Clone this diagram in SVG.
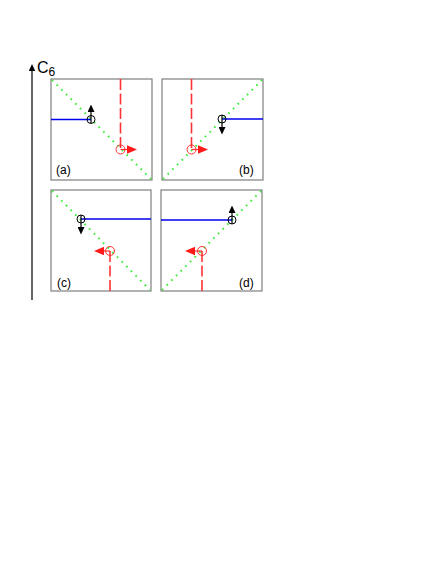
<svg xmlns="http://www.w3.org/2000/svg" width="436" height="564" viewBox="0 0 436 564">
<style>
.box{fill:#fff;stroke:#7f7f7f;stroke-width:1.2}
.diag{stroke:#33ee33;stroke-width:2;stroke-dasharray:1.6 5;fill:none}
.blue{stroke:#0000ee;stroke-width:1.5;fill:none}
.red{stroke:#ff3333;stroke-width:1.6;stroke-dasharray:11 3.5;fill:none}
.bc{fill:none;stroke:#000;stroke-width:1}
.rc{fill:none;stroke:#ff3333;stroke-width:1}
.ba{stroke:#000;stroke-width:1.2;marker-end:url(#mb)}
.ra{stroke:#ff3333;stroke-width:1.2;marker-end:url(#mr)}
.lbl{font-family:"Liberation Sans",Arial,sans-serif;font-size:12px;fill:#000}
</style>
<defs>
<marker id="mb" viewBox="0 0 10 10" refX="0" refY="5" markerWidth="7.5" markerHeight="7" markerUnits="userSpaceOnUse" orient="auto" preserveAspectRatio="none"><path d="M0,0 L10,5 L0,10 z" fill="#000"/></marker>
<marker id="mr" viewBox="0 0 10 10" refX="0" refY="5" markerWidth="10" markerHeight="8.5" markerUnits="userSpaceOnUse" orient="auto" preserveAspectRatio="none"><path d="M0,0 L10,5 L0,10 z" fill="#ff1a1a"/></marker>
<marker id="ma" viewBox="0 0 10 10" refX="0" refY="5" markerWidth="7" markerHeight="6.5" markerUnits="userSpaceOnUse" orient="auto" preserveAspectRatio="none"><path d="M0,0 L10,5 L0,10 z" fill="#000"/></marker>
</defs>
<g id="axis">
<line x1="32" y1="300" x2="32" y2="71" stroke="#000" stroke-width="1.2" marker-end="url(#ma)"/>
<text x="37" y="73" font-family="Liberation Sans,Arial,sans-serif" font-size="16">C<tspan font-size="12" dy="3">6</tspan></text>
</g>
<g id="panel-a">
<rect class="box" x="51" y="79" width="101" height="101"/>
<line class="diag" x1="52" y1="80" x2="151" y2="179"/>
<line class="blue" x1="51" y1="119.5" x2="91" y2="119.5"/>
<line class="red" x1="120.5" y1="79" x2="120.5" y2="149"/>
<circle class="bc" cx="91" cy="119.5" r="4"/>
<line class="ba" x1="91" y1="123" x2="91" y2="112"/>
<circle class="rc" cx="120.5" cy="149.5" r="4.5"/>
<line class="ra" x1="120.5" y1="149.5" x2="127" y2="149.5"/>
<text class="lbl" x="56" y="174">(a)</text>
</g>
<g id="panel-b">
<rect class="box" x="162" y="79" width="101" height="101"/>
<line class="diag" x1="163" y1="179" x2="262" y2="80"/>
<line class="blue" x1="222" y1="119" x2="263" y2="119"/>
<line class="red" x1="191.5" y1="79" x2="191.5" y2="149"/>
<circle class="bc" cx="222" cy="119" r="4"/>
<line class="ba" x1="222" y1="115" x2="222" y2="127"/>
<circle class="rc" cx="191.5" cy="149.5" r="4.5"/>
<line class="ra" x1="191.5" y1="149.5" x2="198" y2="149.5"/>
<text class="lbl" x="239" y="174">(b)</text>
</g>
<g id="panel-c">
<rect class="box" x="51" y="190" width="100" height="101"/>
<line class="diag" x1="52" y1="191" x2="150" y2="290"/>
<line class="blue" x1="81" y1="219" x2="151" y2="219"/>
<line class="red" x1="110" y1="251" x2="110" y2="291"/>
<circle class="bc" cx="81" cy="219" r="4"/>
<line class="ba" x1="81" y1="215" x2="81" y2="227"/>
<circle class="rc" cx="110" cy="251" r="4.5"/>
<line class="ra" x1="110" y1="251" x2="104" y2="251"/>
<text class="lbl" x="57" y="287">(c)</text>
</g>
<g id="panel-d">
<rect class="box" x="161" y="190" width="101" height="101"/>
<line class="diag" x1="162" y1="290" x2="261" y2="191"/>
<line class="blue" x1="161" y1="220" x2="232" y2="220"/>
<line class="red" x1="202" y1="251" x2="202" y2="291"/>
<circle class="bc" cx="232" cy="220" r="4"/>
<line class="ba" x1="232" y1="224" x2="232" y2="213"/>
<circle class="rc" cx="202" cy="251" r="4.5"/>
<line class="ra" x1="202" y1="251" x2="195" y2="251"/>
<text class="lbl" x="239" y="287">(d)</text>
</g>
</svg>
